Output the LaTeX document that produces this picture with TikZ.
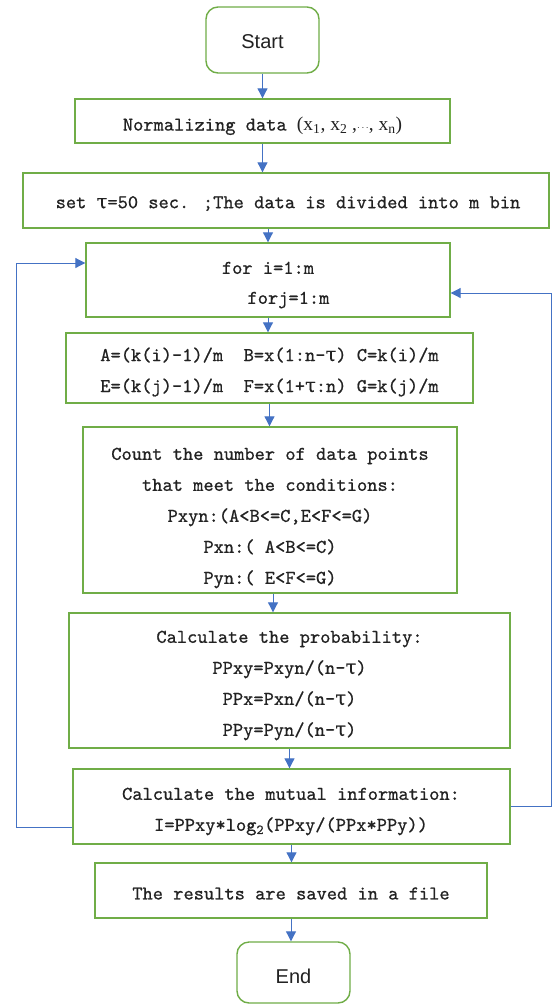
\documentclass[tikz,border=0pt]{standalone}
\usepackage{fontspec}
\usetikzlibrary{arrows.meta}
\newfontfamily\grk{DejaVu Serif}[FakeBold=0.5]
\newfontfamily\serf{Liberation Serif}
\newfontfamily\sansf{Liberation Sans}
\newfontfamily\mono{lmmono10-regular.otf}[FakeBold=0.7]
\definecolor{boxgreen}{HTML}{70AD47}
\definecolor{arrblue}{HTML}{4472C4}
\definecolor{txt}{HTML}{222222}
\newcommand{\ta}{{\grk τ}}
\begin{document}
\begin{tikzpicture}[x=1pt,y=-1pt,
  box/.style={draw=boxgreen, line width=1.4pt, fill=white, inner sep=0pt},
  term/.style={box, rounded corners=12pt},
  lbl/.style={text=txt, inner sep=0pt, align=center, font=\mono\fontsize{19.5}{31}\selectfont},
  tlbl/.style={text=txt, inner sep=0pt, font=\sansf\fontsize{20}{24}\selectfont},
  arr/.style={draw=arrblue, line width=1pt, -{Triangle[length=10pt,width=10pt]}}]
\useasboundingbox[fill=white] (0,0) rectangle (552,1005);

\node[term, minimum width=113pt, minimum height=66pt] (start) at (262.5,40) {};
\node[tlbl] (startt) at (262.5,42) {Start};
\node[box, minimum width=375pt, minimum height=44pt] (norm) at (262.5,121) {};
\node[lbl] (normt) at (262.5,126)
  {Normalizing data {\serf(x\textsubscript{1}, x\textsubscript{2} ,{\fontsize{10}{10}\selectfont$\cdots$}, x\textsubscript{n})}};
\node[box, minimum width=526pt, minimum height=55pt] (set) at (286,200.5) {};
\node[lbl] (sett) at (288,203.5) {set \ta=50 sec. ;The data is divided into m bin};
\node[box, minimum width=364pt, minimum height=74pt] (loop) at (268,280) {};
\node[lbl, font=\mono\fontsize{19.5}{30}\selectfont] (loopt) at (268,285)
  {for i=1:m\\\phantom{xxxx}forj=1:m};
\node[box, minimum width=407pt, minimum height=70pt] (abox) at (269.5,368) {};
\node[lbl] (aboxt) at (269.5,372)
  {A=(k(i)-1)/m~~B=x(1:n-\ta) C=k(i)/m\\E=(k(j)-1)/m~~F=x(1+\ta:n) G=k(j)/m};
\node[box, minimum width=374pt, minimum height=166pt] (count) at (270,510) {};
\node[lbl] (countt) at (270,518)
  {Count the number of data points\\that meet the conditions:\\Pxyn:(A<B<=C,E<F<=G)\\Pxn:( A<B<=C)\\Pyn:( E<F<=G)};
\node[box, minimum width=441pt, minimum height=135pt] (prob) at (289.5,680.5) {};
\node[lbl] (probt) at (289.5,685.5)
  {Calculate the probability:\\PPxy=Pxyn/(n-\ta)\\PPx=Pxn/(n-\ta)\\PPy=Pyn/(n-\ta)};
\node[box, minimum width=437pt, minimum height=75pt] (mut) at (291.5,806.5) {};
\node[lbl] (mutt) at (291,811.5)
  {Calculate the mutual information:\\I=PPxy*log\textsubscript{2}(PPxy/(PPx*PPy))};
\node[box, minimum width=392pt, minimum height=55pt] (res) at (291,890.5) {};
\node[lbl] (rest) at (291,893.5) {The results are saved in a file};
\node[term, minimum width=113pt, minimum height=61pt] (stop) at (293.5,972.5) {};
\node[tlbl] (stopt) at (293.5,976) {End};

\draw[arr] (start.south) -- (start.south |- norm.north);
\draw[arr] (norm.south) -- (norm.south |- set.north);
\draw[arr] (loop.north |- set.south) -- (loop.north);
\draw[arr] (loop.south) -- (loop.south |- abox.north);
\draw[arr] (abox.south) -- (abox.south |- count.north);
\draw[arr] ([xshift=3pt]count.south) -- ([xshift=3pt]count.south |- prob.north);
\draw[arr] (prob.south) -- (prob.south |- mut.north);
\draw[arr] (mut.south) -- (mut.south |- res.north);
\draw[arr] (res.south) -- (res.south |- stop.north);

\draw[arr] ([yshift=-20.5pt]mut.west) -- ++(-56pt,0) |- ([yshift=17pt]loop.west);
\draw[arr] (mut.east) -- ++(41pt,0) |- ([yshift=-13pt]loop.east);
\end{tikzpicture}
\end{document}
